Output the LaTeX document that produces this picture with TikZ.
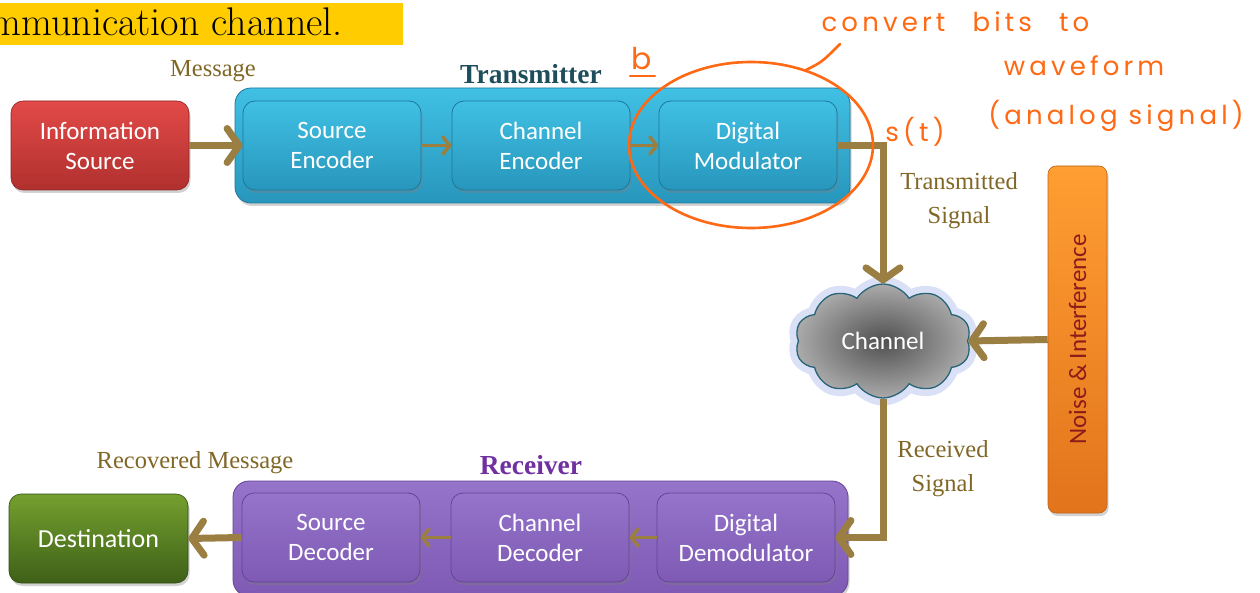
\documentclass[tikz,border=0pt]{standalone}
\usepackage{fontspec}
\usetikzlibrary{arrows.meta,shapes.symbols,shadows,calc}
\newfontfamily\boxfont{Carlito}
\newfontfamily\lblfont{Liberation Serif}
\newfontfamily\hand[LetterSpace=16]{Poppins}
\definecolor{bannerc}{RGB}{255,204,0}
\definecolor{arrowc}{RGB}{154,126,66}
\definecolor{lblc}{RGB}{128,103,38}
\definecolor{redtop}{RGB}{226,74,72}
\definecolor{redbot}{RGB}{176,48,46}
\definecolor{cyantop}{RGB}{64,192,228}
\definecolor{cyanbot}{RGB}{40,150,188}
\definecolor{cyanedge}{RGB}{30,120,155}
\definecolor{purtop}{RGB}{150,116,202}
\definecolor{purbot}{RGB}{126,90,180}
\definecolor{puredge}{RGB}{100,68,150}
\definecolor{grntop}{RGB}{116,160,46}
\definecolor{grnbot}{RGB}{62,96,24}
\definecolor{orgtop}{RGB}{255,158,50}
\definecolor{orgbot}{RGB}{226,116,28}
\definecolor{noisetxt}{RGB}{140,28,28}
\definecolor{txlblc}{RGB}{30,78,92}
\definecolor{rxlblc}{RGB}{112,48,160}
\definecolor{cloudedge}{RGB}{40,100,120}
\definecolor{glowc}{RGB}{150,170,230}
\definecolor{inkc}{RGB}{255,105,20}
\begin{document}
\begin{tikzpicture}[x=1pt,y=-1pt,
  boxtext/.style={font=\boxfont\fontsize{25}{30}\selectfont, text=white, align=center},
  block/.style={boxtext, rounded corners=12pt, minimum width=178pt, minimum height=89pt,
    inner sep=0pt, drop shadow={opacity=0.35, shadow xshift=1.5pt, shadow yshift=-3pt}},
  redblock/.style={block, top color=redtop, bottom color=redbot, draw=redbot!80!black, line width=0.6pt},
  cyanblock/.style={block, top color=cyantop, bottom color=cyanbot, draw=cyanedge, line width=0.8pt},
  purblock/.style={block, top color=purtop, bottom color=purbot, draw=puredge, line width=0.8pt},
  grnblock/.style={block, top color=grntop, bottom color=grnbot, draw=grnbot!80!black, line width=0.6pt},
  outer/.style={rounded corners=16pt, minimum width=615pt, minimum height=115pt, inner sep=0pt,
    drop shadow={opacity=0.35, shadow xshift=1.5pt, shadow yshift=-3pt}},
  lbl/.style={font=\lblfont\fontsize{24.5}{34}\selectfont, text=lblc, align=center},
  grouplbl/.style={font=\lblfont\bfseries\fontsize{27.5}{30}\selectfont},
  bigarrow/.style={draw=arrowc, line width=7pt, line join=miter,
    -{Straight Barb[length=12pt, width=34pt, round]}},
  smallarrow/.style={draw=arrowc, line width=3.5pt,
    -{Straight Barb[length=7pt, width=17pt, round]}},
  cloudshape/.style={cloud, cloud puffs=10, cloud puff arc=115, aspect=1.55,
    minimum width=176pt, minimum height=114pt, inner sep=0pt},
  hw/.style={font=\hand\fontsize{26}{30}\selectfont, text=inkc},
  hwline/.style={draw=inkc, line width=2.6pt, line cap=round}
]
\clip (0,0) rectangle (1260,593);
\fill[white] (0,0) rectangle (1260,593);

% heading strip
\fill[bannerc] (0,3) rectangle (403,45);
\node[anchor=base east, inner sep=0pt, font=\fontsize{40}{42}\selectfont] (title) at (343,36) {mmunication channel.};

% transmitter chain
\node[outer, top color=cyantop, bottom color=cyanbot, draw=cyanedge, line width=0.8pt] (tx) at (542.5,145.5) {};
\node[grouplbl, text=txlblc] (txlbl) at (531,74) {Transmitter};
\node[redblock] (info) at (100,145.5) {Information\\Source};
\node[cyanblock] (srcenc) at (332,145.5) {Source\\Encoder};
\node[cyanblock] (chenc) at (541,145.5) {Channel\\Encoder};
\node[cyanblock] (mod) at (748,145.5) {Digital\\Modulator};
\node[lbl] (msg) at (213,71) {Message};

% receiver chain
\node[outer, top color=purtop, bottom color=purbot, draw=puredge, line width=0.8pt] (rx) at (540.5,538.5) {};
\node[grouplbl, text=rxlblc] (rxlbl) at (531,465) {Receiver};
\node[purblock] (srcdec) at (331,537.5) {Source\\Decoder};
\node[purblock] (chdec) at (540,537.5) {Channel\\Decoder};
\node[purblock] (demod) at (746,537.5) {Digital\\Demodulator};
\node[grnblock, minimum width=179pt, font=\boxfont\fontsize{26}{30}\selectfont] (dest) at (98.5,538.5) {Destination};
\node[lbl] (recmsg) at (195,463) {Recovered Message};

% channel and noise
\node[cloudshape, draw=glowc, line width=15pt, opacity=0.35] (cloudglow) at (883,341) {};
\node[cloudshape, draw=cloudedge, line width=1.3pt, inner color={rgb,255:red,80;green,80;blue,80},
  outer color={rgb,255:red,170;green,170;blue,170}, boxtext] (cloud) at (883,341) {Channel};
\node[rounded corners=8pt, minimum width=59pt, minimum height=347pt, inner sep=0pt,
  top color=orgtop, bottom color=orgbot, draw=orgbot!85!black, line width=0.6pt,
  drop shadow={opacity=0.35, shadow xshift=1.5pt, shadow yshift=-3pt}] (noise) at (1077.5,339.5) {};
\node[rotate=90, font=\boxfont\fontsize{25}{30}\selectfont, text=noisetxt] (noisetxt) at (noise.center) {Noise \& Interference};

\node[lbl] (txsig) at (959,201) {Transmitted\\Signal};
\node[lbl] (rxsig) at (943,469) {Received\\Signal};

% signal flow
\draw[bigarrow] (info.east) -- (srcenc.west);
\draw[smallarrow] (srcenc.east) -- (chenc.west);
\draw[smallarrow] (chenc.east) -- (mod.west);
\draw[bigarrow] (mod.east) -| (cloud.north);
\draw[bigarrow] (noise.west) -- (cloud.east);
\draw[bigarrow] (cloud.south) |- (demod.east);
\draw[smallarrow] (demod.west) -- (chdec.east);
\draw[smallarrow] (chdec.west) -- (srcdec.east);
\draw[bigarrow] (srcdec.west) -- (dest.east);

% ink notes
\draw[hwline] (751,145) ellipse [x radius=122, y radius=83];
\coordinate (tailstart) at (806,70);
\coordinate (tailend) at (840,44);
\draw[hwline] (tailstart) .. controls (822,62) .. (tailend);
\node[hw, anchor=west] (note1) at (818,22) {convert\hspace{16pt} bits\hspace{16pt} to};
\node[hw] (note2) at (1084,66) {waveform};
\node[hw] (note3) at (1116,116) {(analog signal)};
\node[hw] (note4) at (915,132) {s(t)};
\node[hw, font=\hand\fontsize{30}{30}\selectfont] (noteb) at (642,59) {b};
\coordinate (bl) at (630,76);
\coordinate (br) at (655,76);
\draw[hwline] (bl) -- (br);
\end{tikzpicture}
\end{document}
